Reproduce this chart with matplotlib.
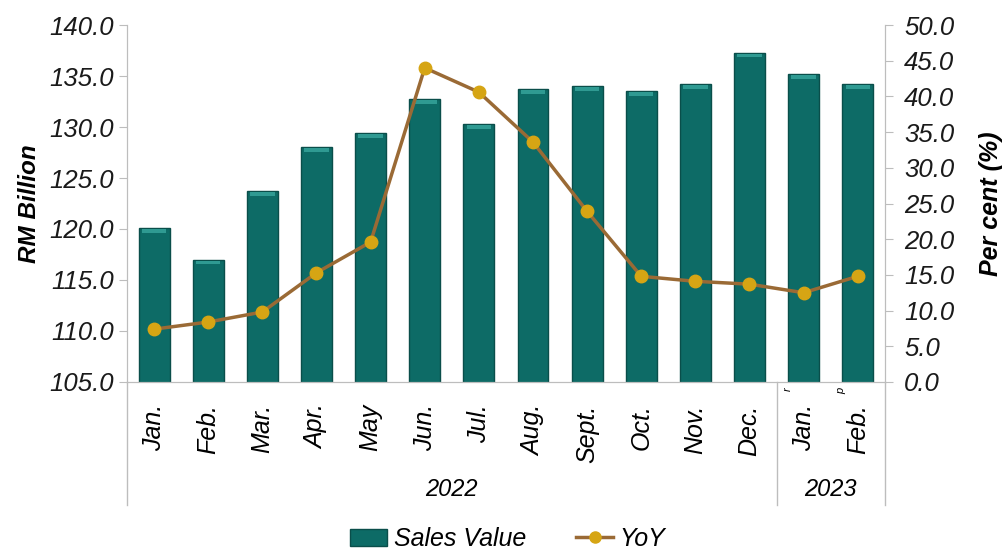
import matplotlib.pyplot as plt
from matplotlib.lines import Line2D
from matplotlib.patches import Patch
import matplotlib.transforms as mtransforms

plt.rcParams['font.family'] = ['Liberation Sans', 'DejaVu Sans']

months = ['Jan.', 'Feb.', 'Mar.', 'Apr.', 'May', 'Jun.', 'Jul.', 'Aug.',
          'Sept.', 'Oct.', 'Nov.', 'Dec.', 'Jan.', 'Feb.']
sales_value = [120.1, 117.0, 123.7, 128.0, 129.4, 132.7, 130.3, 133.7,
               134.0, 133.5, 134.2, 137.3, 135.2, 134.2]
yoy = [7.4, 8.4, 9.8, 15.3, 19.6, 44.0, 40.6, 33.6, 23.9, 14.8, 14.1, 13.7, 12.5, 14.8]
years = ['2022', '2023']
year_counts = [12, 2]
notes = {12: 'r', 13: 'p'}

bar_col = '#0d6b66'
line_col = '#9a6a35'
dot_col = '#d6a514'
grey = '#bdbdbd'

fig = plt.figure(figsize=(10.05, 5.5), dpi=100)
ax = fig.add_axes([0.1264, 0.3055, 0.754, 0.649])
x = list(range(len(months)))

ax.bar(x, sales_value, width=0.57, color=bar_col, edgecolor='#0a4e4a', linewidth=1.0, zorder=2)
# light bevel at top of each bar
ax.bar(x, [0.35] * len(x), bottom=[v - 0.45 for v in sales_value], width=0.45,
       color='#2f9a92', linewidth=0, zorder=3)

ax.set_ylim(105, 140)
ax.set_xlim(-0.5, len(months) - 0.5)
ax.set_yticks([105 + 5 * i for i in range(8)])
ax.set_yticklabels(['%.1f' % (105 + 5 * i) for i in range(8)], fontsize=18.5, style='italic')
ax.set_ylabel('RM Billion', fontsize=17.5, fontweight='bold', style='italic', labelpad=6)

ax.set_xticks(x)
ax.set_xticklabels(months, rotation=90, fontsize=18, style='italic', va='top')
ax.tick_params(axis='x', length=0, pad=16)
ax.tick_params(axis='y', colors=grey, labelcolor='#1a1a1a', length=6, direction='out')

ax.spines['top'].set_visible(False)
for s in ['left', 'right', 'bottom']:
    ax.spines[s].set_color(grey)

ax2 = ax.twinx()
ax2.set_ylim(0, 50)
ax2.set_yticks([5 * i for i in range(11)])
ax2.set_yticklabels(['%.1f' % (5 * i) for i in range(11)], fontsize=18.5, style='italic')
ax2.set_ylabel('Per cent (%)', fontsize=18, fontweight='bold', style='italic', labelpad=18)
ax2.tick_params(axis='y', colors=grey, labelcolor='#1a1a1a', length=6, direction='out', pad=8)
ax2.spines['top'].set_visible(False)
for s in ['left', 'right', 'bottom']:
    ax2.spines[s].set_color(grey)
ax2.plot(x, yoy, color=line_col, linewidth=2.5, marker='o', markersize=9,
         markerfacecolor=dot_col, markeredgecolor=dot_col, zorder=4)

# year group separators and labels
trans = mtransforms.blended_transform_factory(ax.transData, ax.transAxes)
start = 0
edges = [-0.5]
for yr, n in zip(years, year_counts):
    mid = start + (n - 1) / 2
    ax.text(mid, -0.30, yr, transform=trans, ha='center', va='center',
            fontsize=17, style='italic')
    start += n
    edges.append(start - 0.5)
for e in edges:
    ax.add_line(Line2D([e, e], [0, -0.345], transform=trans, color=grey,
                       linewidth=1, clip_on=False))

for i, t in notes.items():
    ax.text(i - 0.3, -0.015, t, transform=trans, ha='center', va='top',
            fontsize=8, style='italic', rotation=90)

handles = [Patch(facecolor=bar_col, edgecolor='#0a4e4a'),
           Line2D([0], [0], color=line_col, linewidth=2.5, marker='o', markersize=8,
                  markerfacecolor=dot_col, markeredgecolor=dot_col)]
leg = fig.legend(handles, ['Sales Value', 'YoY'], loc='center', bbox_to_anchor=(0.505, 0.02),
                 ncol=2, frameon=False, columnspacing=2.0,
                 handlelength=1.5, handletextpad=0.25,
                 prop={'style': 'italic', 'size': 18})

fig.savefig('out.png', dpi=100)
